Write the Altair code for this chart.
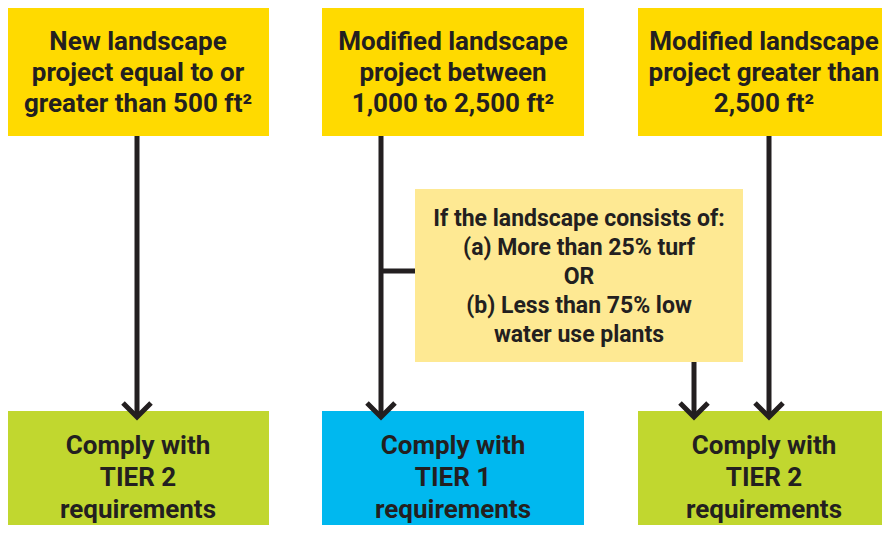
import altair as alt
import pandas as pd

# ---- content ----
top_texts = [
    "New landscape\nproject equal to or\ngreater than 500 ft²",
    "Modified landscape\nproject between\n1,000 to 2,500 ft²",
    "Modified landscape\nproject greater than\n2,500 ft²",
]
condition_text = ("If the landscape consists of:\n(a) More than 25% turf\nOR\n"
                  "(b) Less than 75% low\nwater use plants")
bottom_tiers = ["TIER 2", "TIER 1", "TIER 2"]
bottom_texts = ["Comply with\n%s\nrequirements" % t for t in bottom_tiers]

# ---- layout (pixels of the 890x533 design) ----
col_left = [7, 322, 638]
col_right = [269, 584, 890]
top_y = (8, 136)
bottom_y = (411, 533)
cond_box = (415, 743, 189, 362)
tip_y = 417
arm = 14

tier_colors = {"TIER 1": "#00B8EF", "TIER 2": "#C1D72F"}
TOP = "#FFDA00"
COND = "#FEE993"
INK = "#231F20"
FONT = "Roboto"

xs = alt.Scale(domain=[0, 890], nice=False, zero=False)
ys = alt.Scale(domain=[0, 533], reverse=True, nice=False, zero=False)
X = lambda f: alt.X(f, type="quantitative", scale=xs, axis=None)
Y = lambda f: alt.Y(f, type="quantitative", scale=ys, axis=None)


def first_line(center, text, lh):
    n = text.count("\n") + 1
    return center - (n - 1) * lh / 2


TOP_LH, BOT_LH, COND_LH = 31, 32, 29

top_df = pd.DataFrame({
    "x0": col_left, "x1": col_right,
    "y0": [top_y[0]] * 3, "y1": [top_y[1]] * 3,
    "text": top_texts,
})
top_df["cx"] = (top_df.x0 + top_df.x1) / 2
top_df["ty"] = [first_line(73, t, TOP_LH) for t in top_texts]

bot_df = pd.DataFrame({
    "x0": col_left, "x1": col_right,
    "y0": [bottom_y[0]] * 3, "y1": [bottom_y[1]] * 3,
    "text": bottom_texts, "tier": bottom_tiers,
})
bot_df["cx"] = (bot_df.x0 + bot_df.x1) / 2
bot_df["ty"] = [first_line(478, t, BOT_LH) for t in bottom_texts]

cond_df = pd.DataFrame({
    "x0": [cond_box[0]], "x1": [cond_box[1]],
    "y0": [cond_box[2]], "y1": [cond_box[3]],
    "text": [condition_text],
})
cond_df["cx"] = (cond_df.x0 + cond_df.x1) / 2
cond_df["ty"] = [first_line(277, condition_text, COND_LH)]

# connector segments
seg_df = pd.DataFrame({
    "x0": [137, 381, 694, 769, 381],
    "x1": [137, 381, 694, 769, 415],
    "y0": [136, 136, 362, 136, 271],
    "y1": [tip_y - 1, tip_y - 1, tip_y - 1, tip_y - 1, 271],
})
arrow_x = [137, 381, 694, 769]
chev_rows = []
for i, ax in enumerate(arrow_x):
    for k, (dx, dy) in enumerate([(-arm, -arm), (0, 0), (arm, -arm)]):
        chev_rows.append({"id": i, "k": k, "x": ax + dx, "y": tip_y + dy})
chev_df = pd.DataFrame(chev_rows)

top_rect = alt.Chart(top_df).mark_rect(color=TOP).encode(
    x=X("x0"), x2="x1", y=Y("y0"), y2="y1")
top_txt = alt.Chart(top_df).mark_text(
    font=FONT, fontWeight="bold", fontSize=26, lineHeight=TOP_LH, lineBreak="\n",
    color=INK, align="center", baseline="middle").encode(
    x=X("cx"), y=Y("ty"), text="text:N")

bot_rect = alt.Chart(bot_df).mark_rect().encode(
    x=X("x0"), x2="x1", y=Y("y0"), y2="y1",
    color=alt.Color("tier:N", legend=None,
                    scale=alt.Scale(domain=list(tier_colors), range=list(tier_colors.values()))))
bot_txt = alt.Chart(bot_df).mark_text(
    font=FONT, fontWeight="bold", fontSize=26, lineHeight=BOT_LH, lineBreak="\n",
    color=INK, align="center", baseline="middle").encode(
    x=X("cx"), y=Y("ty"), text="text:N")

cond_rect = alt.Chart(cond_df).mark_rect(color=COND).encode(
    x=X("x0"), x2="x1", y=Y("y0"), y2="y1")
cond_txt = alt.Chart(cond_df).mark_text(
    font=FONT, fontWeight="bold", fontSize=23, lineHeight=COND_LH, lineBreak="\n",
    color=INK, align="center", baseline="middle").encode(
    x=X("cx"), y=Y("ty"), text="text:N")

segs = alt.Chart(seg_df).mark_rule(color=INK, strokeWidth=5).encode(
    x=X("x0"), x2="x1", y=Y("y0"), y2="y1")
chev = alt.Chart(chev_df).mark_line(
    color=INK, strokeWidth=5, strokeJoin="miter", strokeCap="butt").encode(
    x=X("x"), y=Y("y"), detail="id:N", order="k:Q")

chart = alt.layer(
    top_rect, bot_rect, cond_rect, segs, chev, top_txt, bot_txt, cond_txt
).properties(
    width=890, height=533,
    padding={"left": -8, "top": -8, "right": -8, "bottom": -8},
    autosize=alt.AutoSizeParams(type="none"),
    background="white",
).configure_view(stroke=None)

chart.save("out.html", embed_options={"renderer": "svg", "actions": False})
